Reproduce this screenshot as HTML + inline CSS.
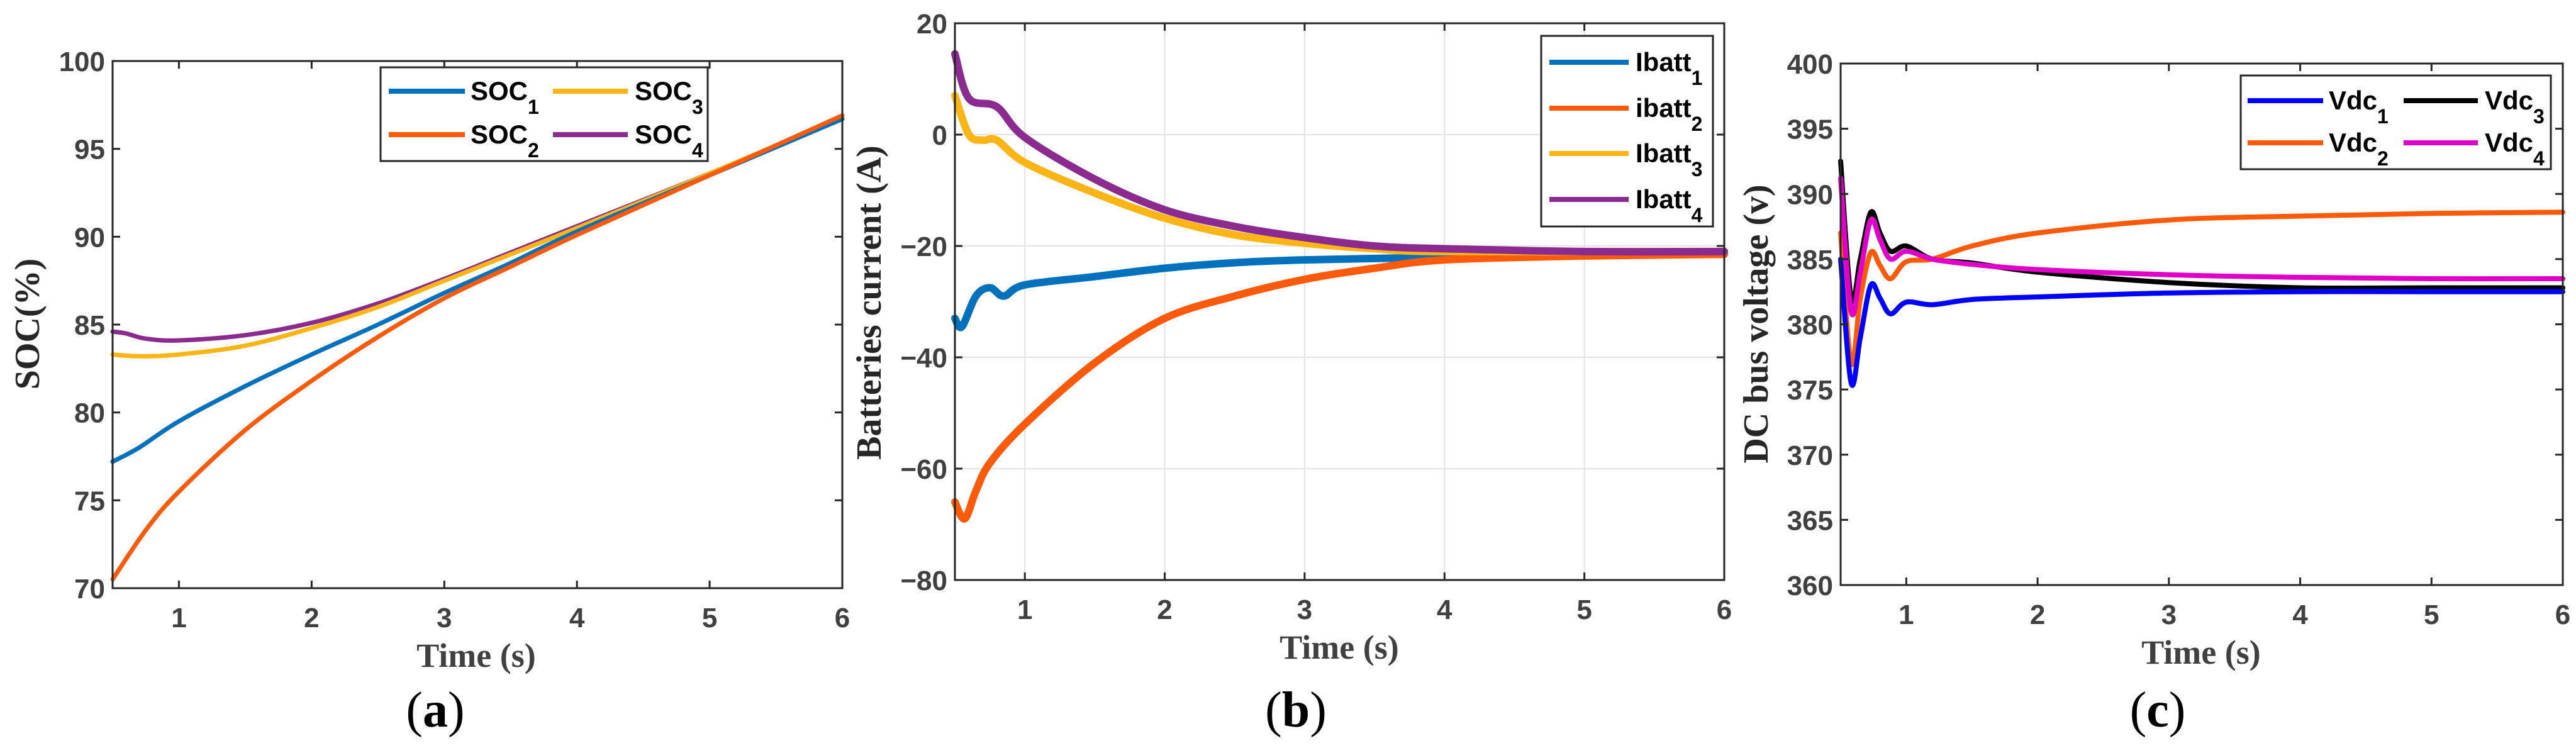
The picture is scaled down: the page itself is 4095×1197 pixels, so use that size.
<!DOCTYPE html>
<html><head><meta charset="utf-8"><style>
html,body{margin:0;padding:0;background:#fff;}
svg{display:block;}
</style></head><body>
<svg id="fig" width="4095" height="1197" viewBox="0 0 4095 1197" xmlns="http://www.w3.org/2000/svg" font-family="Liberation Sans, sans-serif"></svg>
<script>
// ---- Panel (a) data ----
const aT1=[0.5,0.7,1,1.5,2,2.5,3,3.5,4,5,6];
const aSOC1=[77.2,78,79.5,81.5,83.3,85,86.8,88.5,90.3,93.5,96.7];
const aT2=[0.5,0.75,1,1.5,2,2.5,3,3.5,4,5,6];
const aSOC2=[70.5,73.3,75.5,79,81.8,84.3,86.5,88.3,90.1,93.5,96.9];
const aT3=[0.5,0.7,1,1.5,2,2.5,3,3.5,4,5,6];
const aSOC3=[83.3,83.2,83.3,83.8,84.8,86,87.5,89,90.5,93.6,96.8];
const aT4=[0.5,0.6,0.75,1,1.5,2,2.5,3,3.5,4,5,6];
const aSOC4=[84.6,84.5,84.2,84.1,84.4,85.1,86.2,87.6,89.1,90.6,93.6,96.7];
const aYTicks=[70,75,80,85,90,95,100];
const xTicks=[1,2,3,4,5,6];
// ---- Panel (b) data ----
const bT1=[0.5,0.55,0.65,0.75,0.85,1,1.5,2,2.5,3,4,5,6];
const bI1=[-33,-34.5,-29,-27.5,-29,-27,-25.5,-24,-23,-22.5,-22,-21.5,-21.5];
const bT2=[0.5,0.57,0.65,0.75,1,1.5,2,2.5,3,3.5,4,5,6];
const bI2=[-66,-69,-64,-59,-52,-41,-33,-29,-26,-24,-22.5,-21.8,-21.5];
const bT3=[0.5,0.6,0.7,0.8,1,1.5,2,2.5,3,3.5,4,6];
const bI3=[7,0,-1,-1,-5,-10.5,-15,-18,-19.5,-20.5,-21,-21];
const bT4=[0.5,0.6,0.8,1,1.5,2,2.5,3,3.5,4,5,6];
const bI4=[14.5,6.5,5,-0.5,-8,-13.5,-16.5,-18.5,-20,-20.5,-21,-21];
const bYTicks=[-80,-60,-40,-20,0,20];
// ---- Panel (c) data ----
const cT=[0.5,0.58,0.65,0.73,0.8,0.88,1,1.2,1.5,2,3,4,5,6];
const cV1=[385,375.5,379,383,382,380.8,381.7,381.5,381.9,382.1,382.4,382.5,382.5,382.5];
const cV2=[387,377,382,385.5,384.5,383.5,384.8,385,386,387,388,388.3,388.5,388.6];
const cV3=[392.5,382,385,388.6,387,385.6,386,385,384.7,384,383.2,382.8,382.8,382.8];
const cV4=[391.2,381,384,388,386.5,385,385.6,385,384.6,384.2,383.8,383.6,383.5,383.5];
const cYTicks=[360,365,370,375,380,385,390,395,400];

const NS='http://www.w3.org/2000/svg';
const fig=document.getElementById('fig');
function mk(tag,attrs,parent){const e=document.createElementNS(NS,tag);for(const k in attrs)e.setAttribute(k,attrs[k]);(parent||fig).appendChild(e);return e;}
function smooth(pts){
  let d='M'+pts[0][0].toFixed(1)+' '+pts[0][1].toFixed(1);
  for(let i=0;i<pts.length-1;i++){
    const p0=pts[i-1]||pts[i],p1=pts[i],p2=pts[i+1],p3=pts[i+2]||p2;
    const c1=[p1[0]+(p2[0]-p0[0])/6,p1[1]+(p2[1]-p0[1])/6];
    const c2=[p2[0]-(p3[0]-p1[0])/6,p2[1]-(p3[1]-p1[1])/6];
    d+=' C'+c1.map(v=>v.toFixed(1)).join(' ')+' '+c2.map(v=>v.toFixed(1)).join(' ')+' '+p2[0].toFixed(1)+' '+p2[1].toFixed(1);
  }
  return d;
}

function panel(p){
  const g=mk('g',{});
  
  
  const sx=v=>p.L+(v-0.5)/(5.5)*(p.R-p.L);
  const sy=v=>p.B-(v-p.ymin)/(p.ymax-p.ymin)*(p.B-p.T);
  if(p.grid){
    xTicks.forEach(t=>{const l=mk('line',{x1:sx(t),x2:sx(t),y1:p.T,y2:p.B,stroke:'#e3e3e3','stroke-width':2},g);
      });
    p.yt.forEach(t=>{const l=mk('line',{x1:p.L,x2:p.R,y1:sy(t),y2:sy(t),stroke:'#e3e3e3','stroke-width':2},g);
      });
  }
  p.series.forEach(s=>{
    const pts=s.t.map((t,i)=>[sx(t),sy(s.v[i])]);
    const path=mk('path',{d:smooth(pts),fill:'none',stroke:s.c,'stroke-width':p.lw,'stroke-linejoin':'round','stroke-linecap':'round'},g);
    
    
  });
  const box=mk('rect',{x:p.L,y:p.T,width:p.R-p.L,height:p.B-p.T,fill:'none',stroke:'#262626','stroke-width':3},g);
  
  
  xTicks.forEach(t=>{
    mk('line',{x1:sx(t),x2:sx(t),y1:p.B,y2:p.B-12,stroke:'#262626','stroke-width':3},g);
    mk('line',{x1:sx(t),x2:sx(t),y1:p.T,y2:p.T+12,stroke:'#262626','stroke-width':3},g);
    const tx=mk('text',{x:sx(t),y:p.B+62,'text-anchor':'middle','font-size':44,'font-weight':'bold',fill:'#404040'},g);
    tx.textContent=t;
    
    
  });
  p.yt.forEach(t=>{
    mk('line',{x1:p.L,x2:p.L+12,y1:sy(t),y2:sy(t),stroke:'#262626','stroke-width':3},g);
    mk('line',{x1:p.R,x2:p.R-12,y1:sy(t),y2:sy(t),stroke:'#262626','stroke-width':3},g);
    const tx=mk('text',{x:p.L-12,y:sy(t)+16,'text-anchor':'end','font-size':44,'font-weight':'bold',fill:'#404040'},g);
    tx.textContent=(t<0?'\u2212'+(-t):t);
    
    
  });
  const xt=mk('text',{x:p.xtx,y:p.B+125,'text-anchor':'middle','font-size':54,'font-weight':'bold',fill:'#404040','font-family':'Liberation Serif, serif'},g);
  xt.textContent='Time (s)';
  
  
  const yt=mk('text',{x:0,y:0,'text-anchor':'middle','font-size':56,'font-weight':'bold',fill:'#262626','font-family':'Liberation Serif, serif',transform:`translate(${p.ytx},${p.yty}) rotate(-90)`},g);
  yt.textContent=p.ylabel;
  
  
  const cap=mk('text',{x:p.capx,y:1155,'text-anchor':'middle','font-size':80,fill:'#000','font-family':'Liberation Serif, serif'},g);
  cap.innerHTML='(<tspan font-weight="bold">'+p.cap+'</tspan>)';
  
  
  const lg=mk('g',{},g);
  
  
  mk('rect',{x:p.leg.x,y:p.leg.y,width:p.leg.w,height:p.leg.h,fill:'#fff',stroke:'#262626','stroke-width':3},lg);
  p.leg.items.forEach(it=>{
    const e=mk('g',{},lg);
    
    
    mk('line',{x1:it.x1,x2:it.x2,y1:it.y,y2:it.y,stroke:it.c,'stroke-width':8},e);
    const t=mk('text',{x:it.tx,y:it.y+14,'font-size':42,'font-weight':'bold',fill:'#000'},e);
    t.innerHTML=it.label+'<tspan font-size="32" dy="22">'+it.sub+'</tspan>';
  });
}

panel({name:'soc-chart',L:179,R:1339,T:97,B:935,ymin:70,ymax:100,yt:aYTicks,lw:7,grid:false,
  ylabel:'SOC(%)',ytx:62,yty:515,xtx:757,capx:692,cap:'a',
  series:[{id:'soc4',t:aT4,v:aSOC4,c:'#8B2A8F'},{id:'soc3',t:aT3,v:aSOC3,c:'#FDB515'},{id:'soc1',t:aT1,v:aSOC1,c:'#0072BD'},{id:'soc2',t:aT2,v:aSOC2,c:'#FF5A0A'}],
  leg:{x:605,y:107,w:520,h:149,items:[
    {x1:618,x2:739,y:145,tx:748,c:'#0072BD',label:'SOC',sub:'1'},
    {x1:618,x2:739,y:214,tx:748,c:'#FF5A0A',label:'SOC',sub:'2'},
    {x1:879,x2:998,y:145,tx:1009,c:'#FDB515',label:'SOC',sub:'3'},
    {x1:879,x2:998,y:214,tx:1009,c:'#8B2A8F',label:'SOC',sub:'4'}]}});

panel({name:'battery-current-chart',L:1518,R:2741,T:37,B:922,ymin:-80,ymax:20,yt:bYTicks,lw:12,grid:true,
  ylabel:'Batteries current (A)',ytx:1400,yty:481,xtx:2129,capx:2060,cap:'b',
  series:[{id:'ibatt1',t:bT1,v:bI1,c:'#0072BD'},{id:'ibatt2',t:bT2,v:bI2,c:'#FF5A0A'},{id:'ibatt3',t:bT3,v:bI3,c:'#FDB515'},{id:'ibatt4',t:bT4,v:bI4,c:'#8B2A8F'}],
  leg:{x:2450,y:57,w:273,h:303,items:[
    {x1:2463,x2:2589,y:99,tx:2600,c:'#0072BD',label:'Ibatt',sub:'1'},
    {x1:2463,x2:2589,y:172,tx:2600,c:'#FF5A0A',label:'ibatt',sub:'2'},
    {x1:2463,x2:2589,y:244,tx:2600,c:'#FDB515',label:'Ibatt',sub:'3'},
    {x1:2463,x2:2589,y:317,tx:2600,c:'#8B2A8F',label:'Ibatt',sub:'4'}]}});

panel({name:'dc-bus-voltage-chart',L:2926,R:4074,T:101,B:930,ymin:360,ymax:400,yt:cYTicks,lw:8,grid:false,
  ylabel:'DC bus voltage (v)',ytx:2810,yty:515,xtx:3499,capx:3430,cap:'c',
  series:[{id:'vdc2',t:cT,v:cV2,c:'#FF5A0A'},{id:'vdc3',t:cT,v:cV3,c:'#000000'},{id:'vdc4',t:cT,v:cV4,c:'#E000C8'},{id:'vdc1',t:cT,v:cV1,c:'#0000FF'}],
  leg:{x:3562,y:120,w:493,h:149,items:[
    {x1:3573,x2:3693,y:160,tx:3702,c:'#0000FF',label:'Vdc',sub:'1'},
    {x1:3573,x2:3693,y:227,tx:3702,c:'#FF5A0A',label:'Vdc',sub:'2'},
    {x1:3821,x2:3939,y:160,tx:3950,c:'#000000',label:'Vdc',sub:'3'},
    {x1:3821,x2:3939,y:227,tx:3950,c:'#E000C8',label:'Vdc',sub:'4'}]}});
</script>
</body></html>
